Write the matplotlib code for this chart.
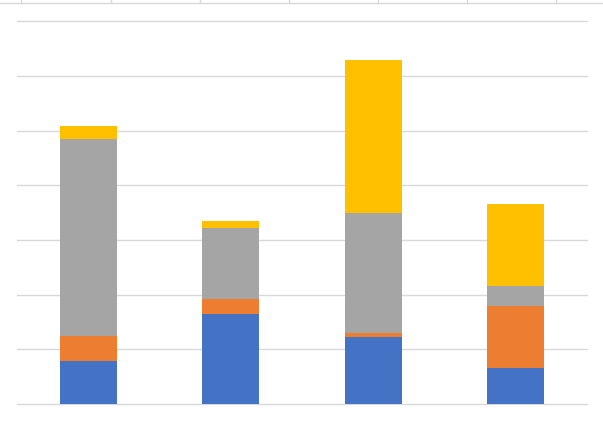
import numpy as np
import matplotlib
matplotlib.use("Agg")
import matplotlib.pyplot as plt
from matplotlib.lines import Line2D

categories = ["A", "B", "C", "D"]
series_names = ["Series 1", "Series 2", "Series 3", "Series 4"]
s1 = [7.9, 16.5, 12.3, 6.6]
s2 = [4.6, 2.7, 0.7, 11.3]
s3 = [36.0, 13.0, 21.9, 3.7]
s4 = [2.4, 1.3, 28.0, 15.0]
colors = ["#4472C4", "#ED7D31", "#A5A5A5", "#FFC000"]
y_ticks = [0, 10, 20, 30, 40, 50, 60, 70]

W, H = 603, 423
fig = plt.figure(figsize=(W / 100, H / 100), dpi=100)
fig.patch.set_facecolor("white")

left, right, top, bottom = 17.3, 586.5, 21.3, 404.0
ax = fig.add_axes([left / W, (H - bottom) / H, (right - left) / W, (bottom - top) / H])

x = np.arange(len(categories))
base = np.zeros(len(categories))
for vals, c, name in zip([s1, s2, s3, s4], colors, series_names):
    ax.bar(x, vals, width=0.4, bottom=base, color=c, label=name, zorder=2, linewidth=0)
    base = base + np.array(vals)

ax.set_xlim(-0.5, len(categories) - 0.5)
ax.set_ylim(y_ticks[0], y_ticks[-1])
ax.set_yticks(y_ticks)
ax.set_xticks([])
ax.tick_params(left=False, labelleft=False, bottom=False, labelbottom=False)
for sp in ax.spines.values():
    sp.set_visible(False)
ax.set_axisbelow(True)
ax.grid(axis="y", color="#D9D9D9", linewidth=1.0)
for gl in ax.get_ygridlines():
    gl.set_clip_on(False)

# top border strip with small tick marks (cropped header)
fig.add_artist(Line2D([0, 1], [1 - 3.5 / H, 1 - 3.5 / H], transform=fig.transFigure,
                      color="#D9D9D9", linewidth=1.0))
for tx in [21.3, 110.5, 199.5, 288.5, 377.5, 466.5, 555.5]:
    fig.add_artist(Line2D([tx / W, tx / W], [1 - 3.5 / H, 1.0], transform=fig.transFigure,
                          color="#D9D9D9", linewidth=1.0))

fig.savefig("out.png", dpi=100, facecolor="white")
